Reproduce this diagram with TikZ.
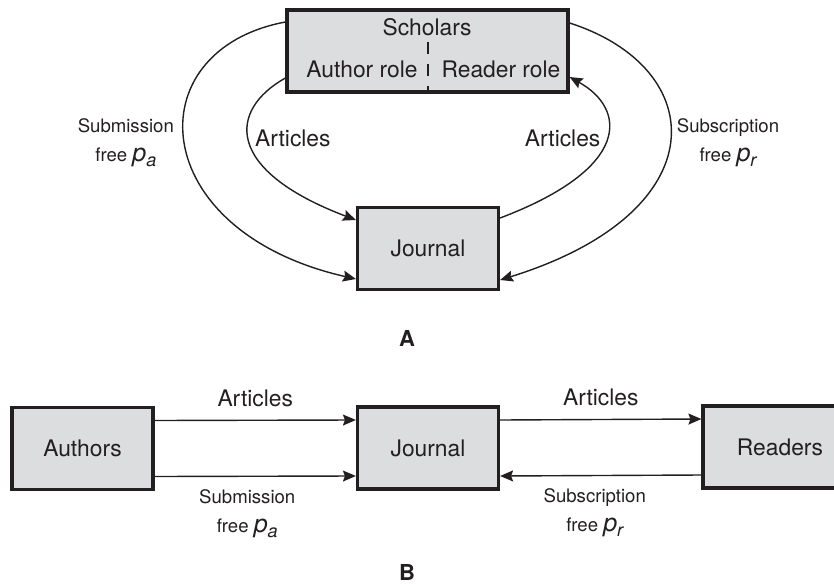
\documentclass[tikz,border=0pt]{standalone}
\usepackage{fontspec}
\setmainfont{TeX Gyre Heros}
\usetikzlibrary{arrows.meta}
\definecolor{boxgray}{RGB}{220,221,223}
\definecolor{ink}{RGB}{35,31,32}
\newcommand{\pfee}[1]{{\fontsize{12.5}{12.5}\selectfont\itshape p}\raisebox{-2.5pt}{\fontsize{9}{9}\selectfont\itshape #1}}

\begin{document}
\begin{tikzpicture}[x=0.5pt,y=-0.5pt,
        every node/.style={text=ink,font=\fontsize{11.4}{13}\selectfont},
        party/.style={draw=ink,line width=1.6pt,fill=boxgray,minimum width=70.5pt,minimum height=41pt,inner sep=0pt},
        flow/.style={draw=ink,line width=0.7pt,-{Stealth[length=6.5pt,width=5.5pt,inset=1pt]}},
        fee/.style={font=\fontsize{9.3}{14.5}\selectfont,align=center},
        panel/.style={font=\bfseries\fontsize{11}{13}\selectfont}]
        \clip (0,0) rectangle (834,583);
        \node[party,minimum width=140.5pt] (sch) at (427.5,51) {};
        \node (schT) at (427,27) {Scholars};
        \node (arole) at (362,69) {Author role};
        \node (rrole) at (501,69) {Reader role};
        \draw[ink,line width=1pt,dash pattern=on 6pt off 5pt] ([yshift=26pt]sch.south) -- (sch.south);
        \node[party] (ja) at (428,248.5) {Journal};
        \draw[flow] ([yshift=14.5pt]sch.west) .. controls +(-150,28) and +(-211,-48) ..
            node[left=2pt,fee] {Submission\\free \pfee{a}} ([yshift=-15.25pt]ja.west);
        \draw[flow] ([yshift=-13.5pt]sch.west) .. controls +(-57,32) and +(-132,-50) ..
            node[right=-1pt,yshift=2pt] {Articles} ([yshift=14.25pt]ja.west);
        \draw[flow] ([yshift=15.25pt]ja.east) .. controls +(132,-50) and +(57,32) ..
            node[left=-1pt,yshift=1pt] {Articles} ([yshift=-13pt]sch.east);
        \draw[flow] ([yshift=14pt]sch.east) .. controls +(140,45) and +(219,-68) ..
            node[right=0pt,fee] {Subscription\\free \pfee{r}} ([yshift=-15.75pt]ja.east);
        \node[panel] (lblA) at (407,338) {A};
        \node[party] (au) at (82.5,448.5) {Authors};
        \node[party] (jb) at (428,448) {Journal};
        \node[party,minimum width=77pt] (rd) at (780,447) {Readers};
        \draw[flow] ([yshift=14pt]au.east) -- node[above=3pt] {Articles} ([yshift=14pt]jb.west);
        \draw[flow] ([yshift=-14pt]au.east) -- node[below=3pt,xshift=-4pt,fee] {Submission\\free \pfee{a}} ([yshift=-14pt]jb.west);
        \draw[flow] ([yshift=14pt]jb.east) -- node[above=3pt] {Articles} ([yshift=14pt]rd.west);
        \draw[flow] ([yshift=-14pt]rd.west) -- node[below=3pt,xshift=-3pt,fee] {Subscription\\free \pfee{r}} ([yshift=-14pt]jb.east);
        \node[panel] (lblB) at (407,572) {B};
    \end{tikzpicture}
\end{document}
